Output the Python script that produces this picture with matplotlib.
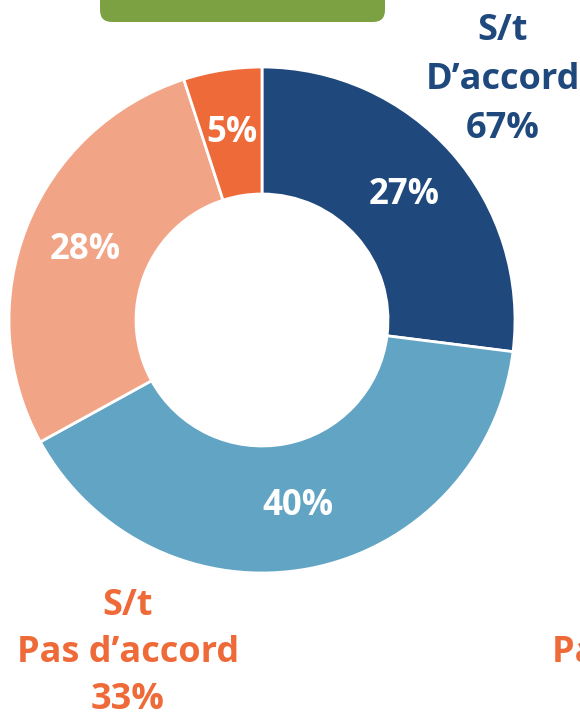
import matplotlib.pyplot as plt
from matplotlib.patches import FancyBboxPatch

# -------------------------------
# Data
# -------------------------------
shares = [27, 40, 28, 5]
colors = ["#1F497D", "#62A4C4", "#F2A486", "#EE6A38"]
agree_label = "S/t\nD’accord\n67%"
disagree_label = "S/t\nPas d’accord\n33%"
cut_label = "Pas d’accord"

blue_txt = "#1F497D"
orange_txt = "#EE6A38"
font = "Open Sans"

# -------------------------------
# Figure (pixel-like coordinates)
# -------------------------------
W, H = 580, 717
fig = plt.figure(figsize=(W / 100, H / 100), dpi=100)
ax = fig.add_axes([0, 0, 1, 1])

wedges, texts, autotexts = ax.pie(
    shares,
    colors=colors,
    startangle=90,
    counterclock=False,
    center=(262, H - 320),
    radius=253,
    autopct=lambda p: f"{p:.0f}%",
    pctdistance=0.75,
    wedgeprops=dict(width=127, edgecolor="white", linewidth=2),
    textprops=dict(color="white", fontsize=25, fontweight="bold", family=font),
)

ax.set_xlim(0, W)
ax.set_ylim(0, H)
ax.set_aspect("equal")
ax.axis("off")

# green header bar (only the bottom corners are visible)
bar = FancyBboxPatch(
    (100 + 12, H - 22 + 12), 285 - 24, 40,
    boxstyle="round,pad=12", facecolor="#7BA143", edgecolor="none",
)
ax.add_patch(bar)

# group labels
ax.text(503, H - 80, agree_label, ha="center", va="center", color=blue_txt,
        fontsize=26, fontweight="bold", family=font, linespacing=1.48)
ax.text(128, H - 653, disagree_label, ha="center", va="center", color=orange_txt,
        fontsize=26, fontweight="bold", family=font, linespacing=1.42)
# right-hand label runs off the edge, as in the original
ax.text(552, H - 653, cut_label, ha="left", va="center", color=orange_txt,
        fontsize=26, fontweight="bold", family=font)

fig.savefig("out.png", dpi=100)
